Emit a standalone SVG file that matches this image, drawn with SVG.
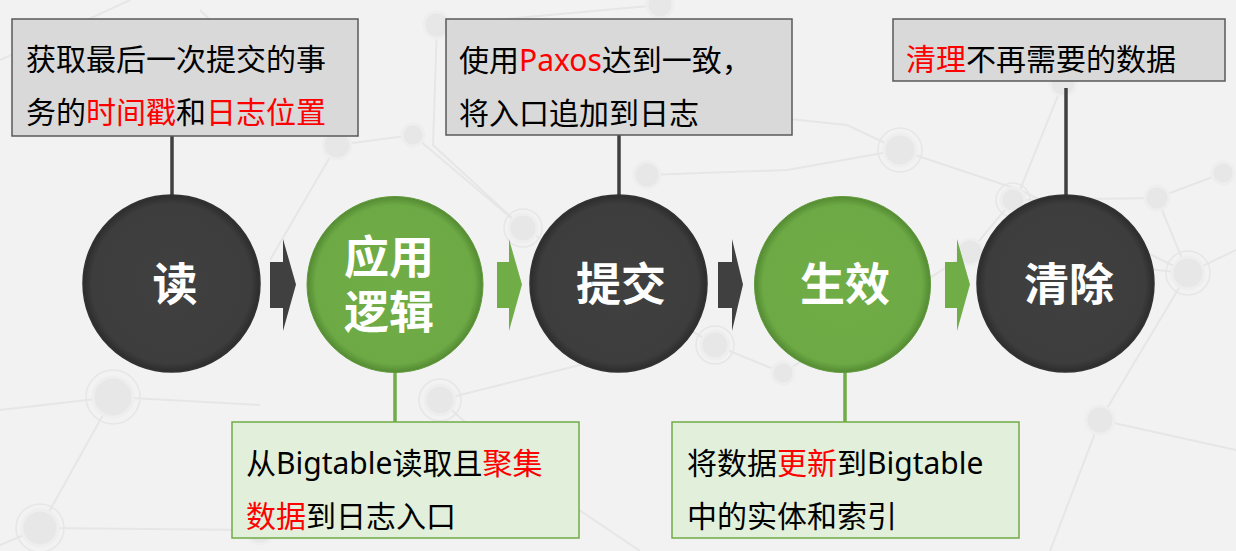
<svg xmlns="http://www.w3.org/2000/svg" width="1236" height="551" viewBox="0 0 1236 551">
<defs>
<style>
.bg-l{stroke:#e6e6e6;stroke-width:2;fill:none}
.bg-n{fill:#e7e7e7;stroke:#eeeeee;stroke-width:3}
.bg-r{fill:none;stroke:#e6e6e6;stroke-width:1.5}
.gray-box{fill:#d9d9d9;stroke:#595959;stroke-width:1.5}
.green-box{fill:#e2efda;stroke:#70ad47;stroke-width:1.5}
.t{font-family:"Noto Sans","Noto Sans CJK SC",sans-serif;font-size:30px;fill:#000}
.r{fill:#ff0000}
.ct{font-family:"Liberation Sans","Noto Sans CJK SC",sans-serif;font-size:45px;font-weight:bold;fill:#fff;text-anchor:middle}
.dark-c{fill:url(#gDark);stroke:#333;stroke-width:1.5}
.green-c{fill:url(#gGreen);stroke:#5f9a3a;stroke-width:1}
.conn-d{stroke:#404040;stroke-width:3.5}
.conn-g{stroke:#70ad47;stroke-width:3.5}
.arr-d{fill:#404040}
.arr-g{fill:#70ad47}
</style>
<radialGradient id="gDark" cx="0.5" cy="0.5" r="0.5">
<stop offset="0" stop-color="#404040"/>
<stop offset="0.9" stop-color="#3d3d3d"/>
<stop offset="1" stop-color="#2c2c2c"/>
</radialGradient>
<radialGradient id="gGreen" cx="0.5" cy="0.5" r="0.5">
<stop offset="0" stop-color="#70ad47"/>
<stop offset="0.9" stop-color="#6daa45"/>
<stop offset="1" stop-color="#548a33"/>
</radialGradient>
</defs>
<rect width="1236" height="551" fill="#f2f2f2"/>
<g id="background-pattern">
<path class="bg-l" d="M0 410 L113 397 L260 405 M113 397 L40 528 L0 545 M40 528 L260 530 L440 520 M337 145 L413 135 L523 228 L433 145 L437 25 L660 5 M523 228 L715 345 L783 373 L970 252 L1013 200 L1157 198 L1223 173 M970 252 L1188 273 L1236 250 M900 150 L847 125 L700 110 M900 150 L1020 190 L1063 83 M1020 190 L1188 273 M1157 198 L1188 273 L1100 420 M647 175 L787 170 L900 150 M0 60 L130 0 M200 10 L337 145 L270 260 M440 400 L600 360 M440 400 L520 470 L640 551 M1100 420 L1236 450 M1100 420 L1050 551"/>
<circle class="bg-n" cx="113" cy="397" r="20"/><circle class="bg-r" cx="113" cy="397" r="27"/>
<circle class="bg-n" cx="40" cy="528" r="18"/><circle class="bg-r" cx="40" cy="528" r="24"/>
<circle class="bg-n" cx="337" cy="145" r="14"/>
<circle class="bg-n" cx="413" cy="135" r="11"/>
<circle class="bg-n" cx="523" cy="228" r="14"/><circle class="bg-r" cx="523" cy="228" r="19"/>
<circle class="bg-n" cx="437" cy="25" r="13"/>
<circle class="bg-n" cx="660" cy="5" r="13"/>
<circle class="bg-n" cx="715" cy="345" r="14"/><circle class="bg-r" cx="715" cy="345" r="19"/>
<circle class="bg-n" cx="783" cy="373" r="11"/>
<circle class="bg-n" cx="970" cy="252" r="13"/>
<circle class="bg-n" cx="1013" cy="200" r="12"/><circle class="bg-r" cx="1013" cy="200" r="17"/>
<circle class="bg-n" cx="1157" cy="198" r="12"/>
<circle class="bg-n" cx="1188" cy="273" r="16"/><circle class="bg-r" cx="1188" cy="273" r="22"/>
<circle class="bg-n" cx="1223" cy="173" r="11"/>
<circle class="bg-n" cx="900" cy="150" r="16"/><circle class="bg-r" cx="900" cy="150" r="22"/>
<circle class="bg-n" cx="1063" cy="83" r="13"/>
<circle class="bg-n" cx="647" cy="175" r="13"/>
<circle class="bg-n" cx="440" cy="400" r="15"/><circle class="bg-r" cx="440" cy="400" r="21"/>
<circle class="bg-n" cx="1100" cy="420" r="14"/>
<circle class="bg-n" cx="260" cy="530" r="14"/>
</g>
<g id="connectors">
<line class="conn-d" x1="172" y1="136" x2="172" y2="196"/>
<line class="conn-d" x1="619" y1="135" x2="619" y2="196"/>
<line class="conn-d" x1="1066" y1="88" x2="1066" y2="196"/>
<line class="conn-g" x1="395" y1="372" x2="395" y2="422"/>
<line class="conn-g" x1="845" y1="372" x2="845" y2="422"/>
<path class="arr-d" d="M270 262 H283 V239 L296 284.5 L283 331 V308 H270 Z"/>
<path class="arr-g" d="M497 262 H509 V239 L522 284.5 L509 331 V308 H497 Z"/>
<path class="arr-d" d="M718 262 H732 V239 L743 284.5 L732 331 V308 H718 Z"/>
<path class="arr-g" d="M945 262 H957 V239 L970 284.5 L957 331 V308 H945 Z"/>
</g>
<g id="node-read">
<circle class="dark-c" cx="171.5" cy="283.5" r="88.5"/>
<text class="ct" x="175" y="301">读</text>
</g>
<g id="node-apply">
<circle class="green-c" cx="395" cy="284.5" r="88"/>
<text class="ct"><tspan x="389" y="274">应用</tspan><tspan x="389" dy="55">逻辑</tspan></text>
</g>
<g id="node-commit">
<circle class="dark-c" cx="618.5" cy="283.5" r="88.5"/>
<text class="ct" x="621" y="301">提交</text>
</g>
<g id="node-apply2">
<circle class="green-c" cx="842.5" cy="284.5" r="88"/>
<text class="ct" x="845" y="301">生效</text>
</g>
<g id="node-clean">
<circle class="dark-c" cx="1065.5" cy="283.5" r="88.5"/>
<text class="ct" x="1069" y="301">清除</text>
</g>
<g id="note-read">
<rect class="gray-box" x="12" y="19" width="346" height="117"/>
<text class="t" x="26" y="70">获取最后一次提交的事</text>
<text class="t" x="26" y="123">务的<tspan class="r">时间戳</tspan>和<tspan class="r">日志位置</tspan></text>
</g>
<g id="note-commit">
<rect class="gray-box" x="446" y="19" width="346" height="116"/>
<text class="t" x="459" y="71">使用<tspan class="r">Paxos</tspan>达到一致，</text>
<text class="t" x="459" y="124">将入口追加到日志</text>
</g>
<g id="note-clean">
<rect class="gray-box" x="893" y="19" width="332" height="62"/>
<text class="t" x="906" y="70"><tspan class="r">清理</tspan>不再需要的数据</text>
</g>
<g id="note-apply">
<rect class="green-box" x="232" y="422" width="347" height="116"/>
<text class="t" x="246" y="474">从Bigtable读取且<tspan class="r">聚集</tspan></text>
<text class="t" x="246" y="527"><tspan class="r">数据</tspan>到日志入口</text>
</g>
<g id="note-apply2">
<rect class="green-box" x="672" y="422" width="347" height="116"/>
<text class="t" x="687" y="474">将数据<tspan class="r">更新</tspan>到Bigtable</text>
<text class="t" x="687" y="527">中的实体和索引</text>
</g>
</svg>
